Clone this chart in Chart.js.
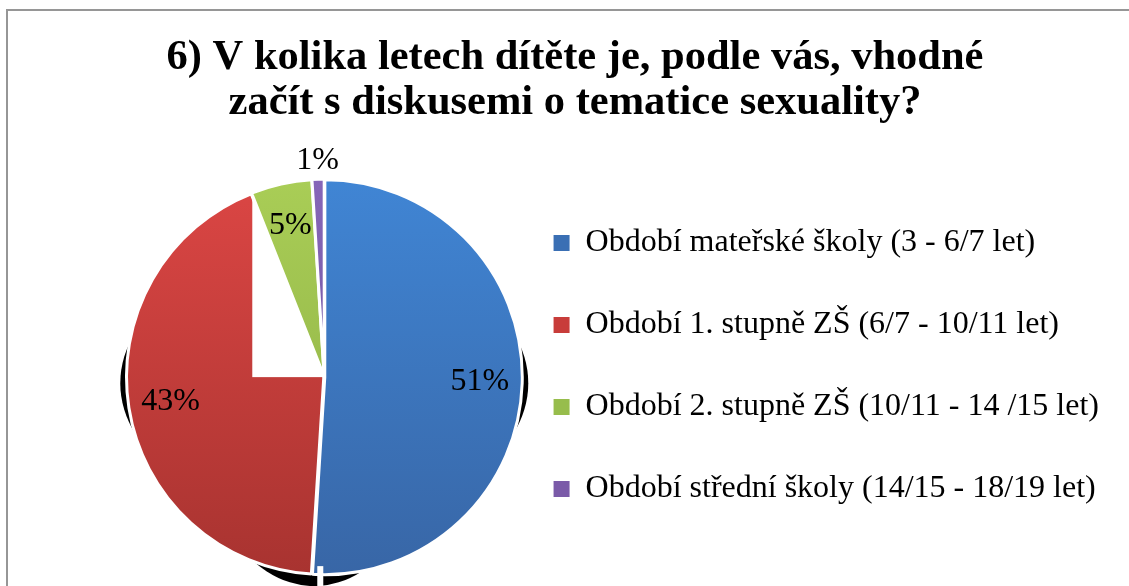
<!DOCTYPE html>
<html>
<head>
<meta charset="utf-8">
<script src="https://cdn.jsdelivr.net/npm/chart.js@4"></script>
<style>
  html, body { margin: 0; padding: 0; background: #fff; }
  #frame { position: absolute; left: 6px; top: 9px; width: 1130px; height: 600px;
           border-left: 2px solid #969696; border-top: 2px solid #969696; }
  #wrap { position: absolute; left: 0; top: 0; width: 1129px; height: 586px; }
</style>
</head>
<body>
<div id="frame"></div>
<div id="wrap"><canvas id="pie_chart"></canvas></div>
<script>
var titleLines = ['6) V kolika letech dítěte je, podle vás, vhodné', 'začít s diskusemi o tematice sexuality?'];
var categories = [
  'Období mateřské školy (3 - 6/7 let)',
  'Období 1. stupně ZŠ (6/7 - 10/11 let)',
  'Období 2. stupně ZŠ (10/11 - 14 /15 let)',
  'Období střední školy (14/15 - 18/19 let)'
];
var shares = [51, 43, 5, 1];
var topColors = ['#4085d4', '#db4644', '#a9cd56', '#8666b8'];
var bottomColors = ['#3866a6', '#a83330', '#8bad43', '#684d94'];
var legendColors = ['#3a6fb4', '#c83c3a', '#97bd4c', '#7a5aa8'];

var serif = '"Liberation Serif", "Times New Roman", serif';

// Excel-like shaded fill
function sliceFill(ctx) {
  var chart = ctx.chart;
  if (!chart.chartArea || ctx.type !== 'data') return topColors[ctx.dataIndex];
  var g = chart.ctx.createLinearGradient(0, 180, 0, 575);
  g.addColorStop(0, topColors[ctx.dataIndex]);
  g.addColorStop(1, bottomColors[ctx.dataIndex]);
  return g;
}

// dark rim / cut-out like in the exported picture
var pieArtifacts = {
  id: 'pieArtifacts',
  beforeDatasetsDraw: function(chart) {
    var arc = chart.getDatasetMeta(0).data[0];
    if (!arc) return;
    var p = arc.getProps(['x', 'y', 'outerRadius'], true);
    var ctx = chart.ctx;
    ctx.save();
    ctx.fillStyle = '#000';
    ctx.beginPath();
    ctx.ellipse(p.x, p.y + 6, p.outerRadius + 7, 135, 0, 0, Math.PI * 2);
    ctx.fill();
    ctx.beginPath();
    ctx.ellipse(p.x - 10, p.y + 12, 125, p.outerRadius, 0, 0, Math.PI * 2);
    ctx.fill();
    ctx.restore();
  },
  afterDatasetsDraw: function(chart) {
    var meta = chart.getDatasetMeta(0);
    var p = meta.data[0].getProps(['x', 'y', 'outerRadius'], true);
    var ctx = chart.ctx;
    ctx.save();
    ctx.fillStyle = '#fff';
    ctx.fillRect(p.x - 72, p.y - p.outerRadius + 10, 72, p.outerRadius - 10);
    ctx.fillRect(p.x - 7, p.y + p.outerRadius - 8, 6, 20);
    ctx.restore();
    meta.data[2].draw(ctx);
    meta.data[3].draw(ctx);
  }
};

// percentage labels on the slices
var pctLabels = {
  id: 'pctLabels',
  afterDatasetsDraw: function(chart) {
    var ctx = chart.ctx;
    var meta = chart.getDatasetMeta(0);
    var total = shares.reduce(function(a, b) { return a + b; }, 0);
    ctx.save();
    ctx.font = '32px ' + serif;
    ctx.fillStyle = '#000';
    ctx.textAlign = 'center';
    ctx.textBaseline = 'middle';
    meta.data.forEach(function(arc, i) {
      var p = arc.getProps(['x', 'y', 'startAngle', 'endAngle', 'outerRadius'], true);
      var mid = (p.startAngle + p.endAngle) / 2;
      var pct = Math.round(shares[i] / total * 100);
      var f = pct < 3 ? 1.1 : 0.79;
      ctx.fillText(pct + '%', p.x + Math.cos(mid) * p.outerRadius * f, p.y + Math.sin(mid) * p.outerRadius * f);
    });
    ctx.restore();
  }
};

var chart = new Chart(document.getElementById('pie_chart').getContext('2d'), {
  type: 'pie',
  data: {
    labels: categories,
    datasets: [{
      data: shares,
      backgroundColor: sliceFill,
      borderColor: '#ffffff',
      borderWidth: 3,
      offset: 2,
      clip: false
    }]
  },
  options: {
    responsive: true,
    maintainAspectRatio: false,
    animation: false,
    radius: 197,
    layout: { padding: { left: 41, right: 20, top: 0, bottom: 31 } },
    plugins: {
      title: {
        display: true,
        text: titleLines,
        color: '#000',
        font: { family: serif, size: 42.5, weight: 'bold', lineHeight: 1.05 },
        padding: { top: 36, bottom: 74 }
      },
      // empty box on the left, keeps the pie left of centre
      subtitle: {
        display: true,
        position: 'left',
        fullSize: false,
        text: ' ',
        font: { size: 10, lineHeight: 1.2 },
        padding: { top: 46, bottom: 46 }
      },
      legend: {
        position: 'right',
        align: 'end',
        maxWidth: 700,
        labels: {
          color: '#000',
          font: { family: serif, size: 32 },
          boxWidth: 16,
          boxHeight: 16,
          padding: 50,
          generateLabels: function(chart) {
            return categories.map(function(c, i) {
              return { text: c, fillStyle: legendColors[i], strokeStyle: legendColors[i], lineWidth: 0, index: i };
            });
          }
        }
      },
      tooltip: { enabled: false }
    }
  },
  plugins: [pieArtifacts, pctLabels]
});
</script>
</body>
</html>
